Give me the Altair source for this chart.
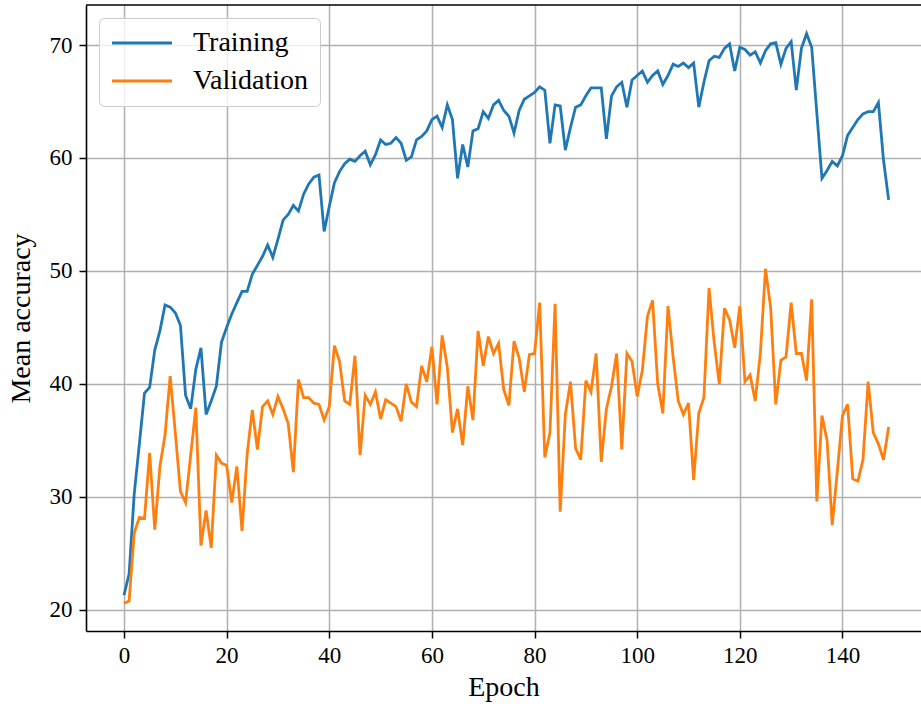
import altair as alt
import pandas as pd

# Mean accuracy per epoch for the training and validation sets
epochs = list(range(150))

training = [
    21.3, 23.2, 30.3, 34.7, 39.2, 39.7, 43.0, 44.7, 47.0, 46.8,
    46.3, 45.2, 39.0, 37.8, 41.3, 43.2, 37.3, 38.5, 39.8, 43.7,
    45.0, 46.2, 47.2, 48.2, 48.2, 49.7, 50.5, 51.3, 52.3, 51.2,
    52.8, 54.5, 55.0, 55.8, 55.3, 56.8, 57.7, 58.3, 58.5, 53.5,
    55.7, 57.8, 58.8, 59.5, 59.9, 59.7, 60.2, 60.6, 59.4, 60.3,
    61.6, 61.2, 61.3, 61.8, 61.3, 59.8, 60.1, 61.6, 61.9, 62.4,
    63.4, 63.7, 62.7, 64.7, 63.4, 58.2, 61.2, 59.2, 62.4, 62.6,
    64.1, 63.5, 64.7, 65.1, 64.2, 63.7, 62.2, 64.2, 65.2, 65.5,
    65.8, 66.3, 66.0, 61.3, 64.7, 64.6, 60.7, 62.7, 64.5, 64.7,
    65.5, 66.2, 66.2, 66.2, 61.7, 65.5, 66.3, 66.7, 64.5, 66.9,
    67.3, 67.7, 66.7, 67.3, 67.7, 66.5, 67.3, 68.3, 68.1, 68.4,
    68.0, 68.4, 64.5, 66.7, 68.6, 69.0, 68.9, 69.7, 70.1, 67.7,
    69.8, 69.6, 69.1, 69.4, 68.4, 69.5, 70.1, 70.2, 68.3, 69.7,
    70.3, 66.0, 69.7, 71.0, 69.8, 64.0, 58.2, 58.9, 59.7, 59.3,
    60.2, 62.0, 62.7, 63.4, 63.9, 64.1, 64.1, 64.9, 59.8, 56.3,
]

validation = [
    20.6, 20.8, 26.8, 28.2, 28.1, 33.9, 27.1, 32.7, 35.5, 40.7,
    35.7, 30.5, 29.5, 33.7, 37.9, 25.7, 28.8, 25.5, 33.7, 33.0,
    32.8, 29.5, 32.7, 27.0, 33.8, 37.7, 34.2, 38.0, 38.5, 37.3,
    38.9, 37.8, 36.5, 32.2, 40.4, 38.8, 38.8, 38.3, 38.2, 36.8,
    38.0, 43.4, 42.0, 38.5, 38.2, 42.5, 33.7, 39.0, 38.2, 39.3,
    36.9, 38.6, 38.3, 38.0, 36.7, 40.0, 38.4, 38.0, 41.6, 40.2,
    43.3, 38.2, 44.3, 41.5, 35.7, 37.8, 34.6, 39.8, 36.8, 44.7,
    41.6, 44.2, 42.7, 43.6, 39.5, 38.1, 43.8, 42.3, 39.3, 42.6,
    42.7, 47.2, 33.5, 35.7, 47.1, 28.7, 37.3, 40.2, 34.3, 33.3,
    40.3, 39.3, 42.7, 33.1, 37.8, 39.8, 42.7, 34.2, 42.7, 42.0,
    38.9, 41.2, 46.0, 47.4, 40.0, 37.4, 46.9, 42.4, 38.5, 37.3,
    38.3, 31.5, 37.4, 38.8, 48.5, 43.7, 40.0, 46.7, 45.7, 43.2,
    46.9, 40.2, 40.8, 38.5, 42.7, 50.2, 46.8, 38.2, 42.1, 42.4,
    47.2, 42.7, 42.7, 40.3, 47.5, 29.6, 37.2, 35.0, 27.5, 32.3,
    37.2, 38.2, 31.6, 31.4, 33.3, 40.2, 35.7, 34.7, 33.3, 36.2,
]

series_names = ["Training", "Validation"]
series_colors = ["#1f77b4", "#ff7f0e"]

x_ticks = [0, 20, 40, 60, 80, 100, 120, 140]
y_ticks = [20, 30, 40, 50, 60, 70]

df = pd.concat(
    [
        pd.DataFrame({"epoch": epochs, "accuracy": training, "set": "Training"}),
        pd.DataFrame({"epoch": epochs, "accuracy": validation, "set": "Validation"}),
    ],
    ignore_index=True,
)

FONT = "Liberation Serif"
PLOT_W, PLOT_H = 835, 626

lines = (
    alt.Chart(df)
    .mark_line(strokeWidth=2.8, clip=True)
    .encode(
        x=alt.X(
            "epoch:Q",
            scale=alt.Scale(domain=[-7.4, 155.3], nice=False, zero=False),
            axis=alt.Axis(
                values=x_ticks,
                title="Epoch",
                format="d",
                titlePadding=6,
                labelPadding=6,
            ),
        ),
        y=alt.Y(
            "accuracy:Q",
            scale=alt.Scale(domain=[18.14, 73.54], nice=False, zero=False),
            axis=alt.Axis(
                values=y_ticks,
                title="Mean accuracy",
                format="d",
                titlePadding=14,
                labelPadding=7,
            ),
        ),
        color=alt.Color(
            "set:N",
            scale=alt.Scale(domain=series_names, range=series_colors),
            legend=alt.Legend(
                title=None,
                orient="none",
                legendX=13,
                legendY=13,
                # a long horizontal stroke drawn to the right of a compact symbol box
                symbolType="M-1,0H4",
                symbolSize=576,
                symbolStrokeWidth=3,
                labelFont=FONT,
                labelFontSize=28,
                labelColor="black",
                labelOffset=55,
                rowPadding=10,
                padding=11,
                fillColor="rgba(255,255,255,0.8)",
                strokeColor="#cccccc",
                cornerRadius=5,
            ),
        ),
    )
)

# top frame line of the plot area
top_frame = (
    alt.Chart(pd.DataFrame({"k": [0]}))
    .mark_rule(color="black", strokeWidth=1.6)
    .encode(x=alt.value(0), x2=alt.value(PLOT_W), y=alt.value(0))
)

chart = (
    alt.layer(lines, top_frame)
    .properties(
        width=PLOT_W,
        height=PLOT_H,
        autosize=alt.AutoSizeParams(type="none"),
        padding={"left": 86, "top": 5, "right": 0, "bottom": 73},
    )
    .configure_view(stroke=None)
    .configure_axis(
        grid=True,
        gridColor="#b0b0b0",
        gridWidth=1.5,
        domainColor="black",
        domainWidth=1.6,
        tickColor="black",
        tickSize=7,
        tickWidth=1.5,
        labelFont=FONT,
        labelFontSize=23,
        labelColor="black",
        titleFont=FONT,
        titleFontSize=28,
        titleFontWeight="normal",
        titleColor="black",
    )
)

chart.save("out.html", embed_options={"renderer": "svg", "actions": False})
